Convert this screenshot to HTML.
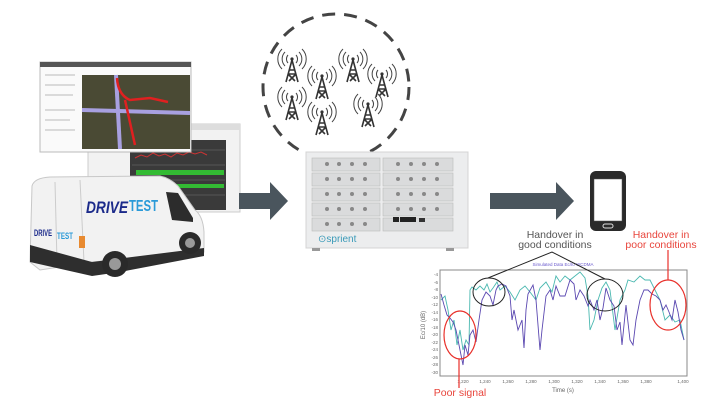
<!DOCTYPE html>
<html><head><meta charset="utf-8"><style>
html,body{margin:0;padding:0;background:#fff;}
svg{display:block;font-family:"Liberation Sans",sans-serif;}
</style></head><body>
<svg width="718" height="419" viewBox="0 0 718 419" xmlns="http://www.w3.org/2000/svg">
<defs>
<g id="tw">
 <path d="M0,-10 L-6,12 M0,-10 L6,12 M-4,4 L4,4 M-3,0 L3,0 M-4,4 L3,11 M4,4 L-3,11" stroke="#333" stroke-width="1.6" fill="none"/>
 <circle cx="0" cy="-11" r="1.6" fill="#333"/>
 <path d="M-4,-15 A6,6 0 0 0 -4,-7 M4,-15 A6,6 0 0 1 4,-7 M-7,-18 A10,10 0 0 0 -7,-4 M7,-18 A10,10 0 0 1 7,-4 M-10,-21 A14,14 0 0 0 -10,-1 M10,-21 A14,14 0 0 1 10,-1" stroke="#444" stroke-width="1" fill="none"/>
</g>
</defs>

<!-- screenshots -->
<rect x="88" y="124" width="152" height="88" fill="#f2f2f2" stroke="#ccc"/>
<rect x="88" y="124" width="152" height="6" fill="#ddd"/>
<rect x="130" y="140" width="96" height="70" fill="#3a3a3a"/>
<path d="M132,150 L225,150 M132,165 L225,165 M132,180 L225,180 M132,195 L225,195" stroke="#555"/>
<path d="M135,158 l6,-3 6,2 6,-4 6,3 6,-2 6,3 6,-4 6,2 6,-3 6,2 6,-2 6,3" stroke="#c33" fill="none"/>
<rect x="136" y="170" width="88" height="5" fill="#3b3"/>
<rect x="136" y="184" width="88" height="4" fill="#3b3"/>
<path d="M136,205 l3,-10 3,10 3,-12 3,12 3,-10 3,10 3,-12 3,12 3,-10 3,10 3,-11 3,11 3,-10 3,10 3,-12 3,12" stroke="#bb4" fill="none"/>
<rect x="40" y="62" width="151" height="90" fill="#fafafa" stroke="#bbb"/>
<rect x="40" y="62" width="151" height="5" fill="#555"/>
<rect x="82" y="75" width="108" height="74" fill="#4a4a34"/>
<path d="M82,110 L190,113" stroke="#a8a0e0" stroke-width="4"/>
<path d="M116,75 L120,149" stroke="#a8a0e0" stroke-width="4"/>
<path d="M117,78 Q118,95 130,100 L150,98 L168,102 M125,100 L135,145" stroke="#e02020" stroke-width="2.5" fill="none"/>
<path d="M45,75 h30 M45,85 h30 M45,95 h28 M45,110 h30 M45,120 h25 M45,130 h30" stroke="#bbb"/>

<!-- van -->
<path d="M32,186 Q34,178 50,177 L160,176 Q170,178 178,186 L195,210 Q203,216 204,232 L204,252 L92,262 L40,270 L30,262 Z" fill="#f2f2f2" stroke="#c8c8c8"/>
<path d="M80,180 L84,262" stroke="#ccc"/>
<path d="M55,182 L57,262" stroke="#ccc"/>
<path d="M166,192 L178,193 L193,218 L193,222 L172,220 Z" fill="#2c2c2c"/>
<path d="M30,245 L92,262 L204,248 L204,256 L120,272 L92,276 L30,262 Z" fill="#2e2e2e"/>
<rect x="79" y="236" width="6" height="12" fill="#e88a30"/>
<circle cx="115" cy="264" r="13" fill="#2a2a2a"/><circle cx="115" cy="264" r="6" fill="#999"/>
<circle cx="190" cy="243" r="11" fill="#2a2a2a"/><circle cx="190" cy="243" r="5" fill="#999"/>
<text x="86" y="213" font-size="17" font-weight="bold" font-style="italic" fill="#1b2a8a" textLength="42" lengthAdjust="spacingAndGlyphs">DRIVE</text>
<text x="129" y="211" font-size="16" font-weight="bold" fill="#2a9ad8" textLength="29" lengthAdjust="spacingAndGlyphs">TEST</text>
<text x="34" y="236" font-size="9" font-weight="bold" fill="#1b2a8a" textLength="18" lengthAdjust="spacingAndGlyphs">DRIVE</text>
<text x="57" y="239" font-size="9" font-weight="bold" fill="#2a9ad8" textLength="16" lengthAdjust="spacingAndGlyphs">TEST</text>

<!-- arrows -->
<path d="M239,193 L270,193 L270,182 L288,201 L270,220 L270,209 L239,209 Z" fill="#4a555d"/>
<path d="M490,193 L556,193 L556,182 L574,201 L556,220 L556,209 L490,209 Z" fill="#4a555d"/>

<!-- tower cloud -->
<circle cx="336" cy="87" r="73" fill="none" stroke="#444" stroke-width="3" stroke-dasharray="13,9"/>
<use href="#tw" x="292" y="70"/><use href="#tw" x="322" y="87"/><use href="#tw" x="353" y="70"/>
<use href="#tw" x="382" y="85"/><use href="#tw" x="292" y="108"/><use href="#tw" x="322" y="123"/>
<use href="#tw" x="368" y="115"/>

<!-- chassis -->
<rect x="306" y="152" width="162" height="96" fill="#ecedee" stroke="#d4d4d4"/>
<g fill="#dadbdc" stroke="#bbb" stroke-width="0.6">
<rect x="312" y="158" width="68" height="13"/><rect x="383" y="158" width="70" height="13"/>
<rect x="312" y="173" width="68" height="13"/><rect x="383" y="173" width="70" height="13"/>
<rect x="312" y="188" width="68" height="13"/><rect x="383" y="188" width="70" height="13"/>
<rect x="312" y="203" width="68" height="13"/><rect x="383" y="203" width="70" height="13"/>
<rect x="312" y="218" width="68" height="13"/><rect x="383" y="218" width="70" height="13"/>
</g>
<g fill="#888">
<circle cx="327" cy="164" r="2"/><circle cx="339" cy="164" r="2"/><circle cx="352" cy="164" r="2"/><circle cx="365" cy="164" r="2"/>
<circle cx="398" cy="164" r="2"/><circle cx="411" cy="164" r="2"/><circle cx="424" cy="164" r="2"/><circle cx="437" cy="164" r="2"/>
<circle cx="327" cy="179" r="2"/><circle cx="339" cy="179" r="2"/><circle cx="352" cy="179" r="2"/><circle cx="365" cy="179" r="2"/>
<circle cx="398" cy="179" r="2"/><circle cx="411" cy="179" r="2"/><circle cx="424" cy="179" r="2"/><circle cx="437" cy="179" r="2"/>
<circle cx="327" cy="194" r="2"/><circle cx="339" cy="194" r="2"/><circle cx="352" cy="194" r="2"/><circle cx="365" cy="194" r="2"/>
<circle cx="398" cy="194" r="2"/><circle cx="411" cy="194" r="2"/><circle cx="424" cy="194" r="2"/><circle cx="437" cy="194" r="2"/>
<circle cx="327" cy="209" r="2"/><circle cx="339" cy="209" r="2"/><circle cx="352" cy="209" r="2"/><circle cx="365" cy="209" r="2"/>
<circle cx="398" cy="209" r="2"/><circle cx="411" cy="209" r="2"/><circle cx="424" cy="209" r="2"/><circle cx="437" cy="209" r="2"/>
<circle cx="327" cy="224" r="2"/><circle cx="339" cy="224" r="2"/><circle cx="352" cy="224" r="2"/><circle cx="365" cy="224" r="2"/>
</g>
<rect x="393" y="217" width="6" height="5" fill="#222"/><rect x="400" y="217" width="16" height="5" fill="#222"/><rect x="419" y="218" width="6" height="4" fill="#333"/>
<text x="318" y="242" font-size="10" fill="#3a9ab8">⊙sprient</text>
<rect x="312" y="248" width="8" height="3" fill="#999"/><rect x="446" y="248" width="8" height="3" fill="#999"/>

<!-- phone -->
<rect x="590" y="171" width="36" height="60" rx="6" fill="#2a2a2a"/>
<rect x="594" y="179" width="28" height="42" fill="#fff" stroke="#555" stroke-width="0.5"/>
<rect x="603" y="224" width="10" height="4" rx="2" fill="none" stroke="#ddd" stroke-width="1"/>

<!-- labels -->
<g font-size="10.5" fill="#555" text-anchor="middle">
<text x="555" y="238">Handover in</text><text x="555" y="248">good conditions</text>
</g>
<g font-size="10.5" fill="#e8453c" text-anchor="middle">
<text x="661" y="238">Handover in</text><text x="661" y="248">poor conditions</text>
<text x="460" y="396">Poor signal</text>
</g>

<!-- chart -->
<rect x="440" y="270" width="247" height="106" fill="#fff" stroke="#888" stroke-width="1"/>
<text x="563" y="266" font-size="4.5" fill="#6a5acd" text-anchor="middle">Simulated Data Ec/I0 WCDMA</text>
<g font-size="4.5" fill="#666" text-anchor="end">
<text x="438" y="276">-4</text><text x="438" y="284">-6</text><text x="438" y="291">-8</text><text x="438" y="299">-10</text><text x="438" y="306">-12</text><text x="438" y="314">-14</text><text x="438" y="321">-16</text><text x="438" y="329">-18</text><text x="438" y="336">-20</text><text x="438" y="344">-22</text><text x="438" y="351">-24</text><text x="438" y="359">-26</text><text x="438" y="366">-28</text><text x="438" y="374">-30</text>
</g>
<g font-size="4.5" fill="#666" text-anchor="middle">
<text x="463" y="383">1,220</text><text x="485" y="383">1,240</text><text x="508" y="383">1,260</text><text x="531" y="383">1,280</text><text x="554" y="383">1,300</text><text x="577" y="383">1,320</text><text x="600" y="383">1,340</text><text x="623" y="383">1,360</text><text x="646" y="383">1,380</text><text x="683" y="383">1,400</text>
</g>
<text x="563" y="392" font-size="6" fill="#666" text-anchor="middle">Time (s)</text>
<text x="425" y="325" font-size="6" fill="#666" text-anchor="middle" transform="rotate(-90 425 325)">Ec/10 (dB)</text>
<polyline fill="none" stroke="#4ab8b0" stroke-width="0.9" points="441,300 445,296 448,310 451,330 454,320 457,345 460,330 463,350 466,340 469,345 470,290 472,287 476,290 480,286 484,290 487,284 490,292 493,288 497,282 500,290 505,286 510,292 515,300 520,290 525,286 530,292 536,300 540,288 546,282 552,292 556,276 560,282 565,276 570,280 575,276 580,272 585,278 588,296 590,330 594,320 598,300 602,288 606,282 610,290 615,330 620,300 625,290 628,280 634,282 640,276 645,280 650,280 655,290 660,300 665,320 670,315 675,322 680,320 684,340"/>
<polyline fill="none" stroke="#5a47b0" stroke-width="0.9" points="441,294 444,305 447,315 450,318 453,322 456,330 459,345 461,355 463,365 465,345 468,355 470,335 473,330 476,342 479,320 482,300 486,292 490,296 493,305 496,290 498,286 502,284 506,286 510,296 512,320 514,310 518,330 522,320 524,348 526,310 528,294 533,285 536,300 540,350 542,330 546,296 550,290 553,300 556,286 560,296 565,296 570,280 574,284 576,300 580,290 584,296 588,306 590,300 594,310 597,300 600,320 603,308 606,288 610,300 614,306 617,330 620,322 622,345 626,305 630,340 633,345 636,320 640,300 644,290 648,290 652,294 656,296 660,300 663,310 666,305 669,312 672,320 675,300 678,312 681,330 684,340"/>
<!-- annotations -->
<g fill="none" stroke="#222" stroke-width="1">
<ellipse cx="489" cy="292" rx="16" ry="14"/>
<ellipse cx="605" cy="295" rx="18" ry="16"/>
<path d="M488,278 L552,252 L605,279"/>
</g>
<g fill="none" stroke="#e8302a" stroke-width="1.2">
<ellipse cx="460" cy="335" rx="16" ry="24"/>
<path d="M459,359 L459,388"/>
<ellipse cx="668" cy="305" rx="18" ry="25"/>
<path d="M668,250 L668,280"/>
</g>
</svg>
</body></html>
